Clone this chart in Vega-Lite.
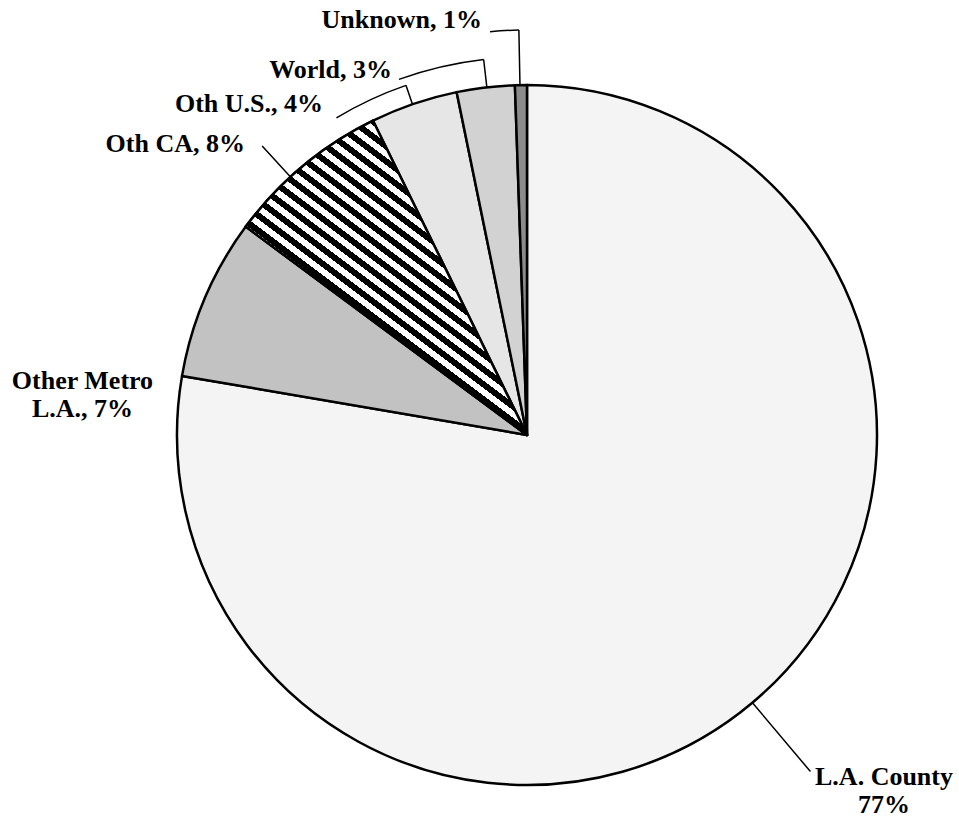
{
  "$schema": "https://vega.github.io/schema/vega-lite/v6.json",
  "width": 864,
  "height": 798,
  "autosize": {"type": "none"},
  "padding": {"left": 95, "top": 36, "right": 0, "bottom": 0},
  "background": "white",
  "config": {"view": {"stroke": null}},
  "data": {
    "values": [
      {"region": "L.A. County", "pct": 77.7, "ord": 1, "label": "L.A. County\n77%"},
      {"region": "Other Metro L.A.", "pct": 7.45, "ord": 2, "label": "Other Metro\nL.A., 7%"},
      {"region": "Oth CA", "pct": 7.6, "ord": 3, "label": "Oth CA, 8%"},
      {"region": "Oth U.S.", "pct": 4.03, "ord": 4, "label": "Oth U.S., 4%"},
      {"region": "World", "pct": 2.67, "ord": 5, "label": "World, 3%"},
      {"region": "Unknown", "pct": 0.55, "ord": 6, "label": "Unknown, 1%"}
    ]
  },
  "transform": [
    {"stack": "pct", "groupby": [], "sort": [{"field": "ord", "order": "ascending"}], "as": ["v0", "v1"]}
  ],
  "layer": [
    {
      "mark": {"type": "arc", "radius": 350, "stroke": "black", "strokeWidth": 2.5, "strokeJoin": "round"},
      "encoding": {
        "theta": {"field": "v0", "type": "quantitative", "stack": null, "scale": {"domain": [0, 100]}},
        "theta2": {"field": "v1"},
        "fill": {
          "field": "region", "type": "nominal", "legend": null,
          "scale": {
            "domain": ["L.A. County", "Other Metro L.A.", "Oth CA", "Oth U.S.", "World", "Unknown"],
            "range": ["#f4f4f4", "#c2c2c2", "#808080", "#e6e6e6", "#d2d2d2", "#8c8c8c"]
          }
        }
      }
    },
    {
      "transform": [{"filter": "datum.region === 'Oth CA'"}],
      "mark": {
        "type": "arc", "radius": 350, "stroke": "black", "strokeWidth": 2.5, "strokeJoin": "round",
        "fill": {
          "gradient": "linear", "x1": 0, "y1": 1, "x2": 0.773, "y2": -0.152,
          "stops": [
            {"offset": 0, "color": "#000"}, {"offset": 0.0143, "color": "#000"}, {"offset": 0.0143, "color": "#fff"}, {"offset": 0.0286, "color": "#fff"},
            {"offset": 0.0286, "color": "#000"}, {"offset": 0.0429, "color": "#000"}, {"offset": 0.0429, "color": "#fff"}, {"offset": 0.0571, "color": "#fff"},
            {"offset": 0.0571, "color": "#000"}, {"offset": 0.0714, "color": "#000"}, {"offset": 0.0714, "color": "#fff"}, {"offset": 0.0857, "color": "#fff"},
            {"offset": 0.0857, "color": "#000"}, {"offset": 0.1, "color": "#000"}, {"offset": 0.1, "color": "#fff"}, {"offset": 0.1143, "color": "#fff"},
            {"offset": 0.1143, "color": "#000"}, {"offset": 0.1286, "color": "#000"}, {"offset": 0.1286, "color": "#fff"}, {"offset": 0.1429, "color": "#fff"},
            {"offset": 0.1429, "color": "#000"}, {"offset": 0.1571, "color": "#000"}, {"offset": 0.1571, "color": "#fff"}, {"offset": 0.1714, "color": "#fff"},
            {"offset": 0.1714, "color": "#000"}, {"offset": 0.1857, "color": "#000"}, {"offset": 0.1857, "color": "#fff"}, {"offset": 0.2, "color": "#fff"},
            {"offset": 0.2, "color": "#000"}, {"offset": 0.2143, "color": "#000"}, {"offset": 0.2143, "color": "#fff"}, {"offset": 0.2286, "color": "#fff"},
            {"offset": 0.2286, "color": "#000"}, {"offset": 0.2429, "color": "#000"}, {"offset": 0.2429, "color": "#fff"}, {"offset": 0.2571, "color": "#fff"},
            {"offset": 0.2571, "color": "#000"}, {"offset": 0.2714, "color": "#000"}, {"offset": 0.2714, "color": "#fff"}, {"offset": 0.2857, "color": "#fff"},
            {"offset": 0.2857, "color": "#000"}, {"offset": 0.3, "color": "#000"}, {"offset": 0.3, "color": "#fff"}, {"offset": 0.3143, "color": "#fff"},
            {"offset": 0.3143, "color": "#000"}, {"offset": 0.3286, "color": "#000"}, {"offset": 0.3286, "color": "#fff"}, {"offset": 0.3429, "color": "#fff"},
            {"offset": 0.3429, "color": "#000"}, {"offset": 0.3571, "color": "#000"}, {"offset": 0.3571, "color": "#fff"}, {"offset": 0.3714, "color": "#fff"},
            {"offset": 0.3714, "color": "#000"}, {"offset": 0.3857, "color": "#000"}, {"offset": 0.3857, "color": "#fff"}, {"offset": 0.4, "color": "#fff"},
            {"offset": 0.4, "color": "#000"}, {"offset": 0.4143, "color": "#000"}, {"offset": 0.4143, "color": "#fff"}, {"offset": 0.4286, "color": "#fff"},
            {"offset": 0.4286, "color": "#000"}, {"offset": 0.4429, "color": "#000"}, {"offset": 0.4429, "color": "#fff"}, {"offset": 0.4571, "color": "#fff"},
            {"offset": 0.4571, "color": "#000"}, {"offset": 0.4714, "color": "#000"}, {"offset": 0.4714, "color": "#fff"}, {"offset": 0.4857, "color": "#fff"},
            {"offset": 0.4857, "color": "#000"}, {"offset": 0.5, "color": "#000"}, {"offset": 0.5, "color": "#fff"}, {"offset": 0.5143, "color": "#fff"},
            {"offset": 0.5143, "color": "#000"}, {"offset": 0.5286, "color": "#000"}, {"offset": 0.5286, "color": "#fff"}, {"offset": 0.5429, "color": "#fff"},
            {"offset": 0.5429, "color": "#000"}, {"offset": 0.5571, "color": "#000"}, {"offset": 0.5571, "color": "#fff"}, {"offset": 0.5714, "color": "#fff"},
            {"offset": 0.5714, "color": "#000"}, {"offset": 0.5857, "color": "#000"}, {"offset": 0.5857, "color": "#fff"}, {"offset": 0.6, "color": "#fff"},
            {"offset": 0.6, "color": "#000"}, {"offset": 0.6143, "color": "#000"}, {"offset": 0.6143, "color": "#fff"}, {"offset": 0.6286, "color": "#fff"},
            {"offset": 0.6286, "color": "#000"}, {"offset": 0.6429, "color": "#000"}, {"offset": 0.6429, "color": "#fff"}, {"offset": 0.6571, "color": "#fff"},
            {"offset": 0.6571, "color": "#000"}, {"offset": 0.6714, "color": "#000"}, {"offset": 0.6714, "color": "#fff"}, {"offset": 0.6857, "color": "#fff"},
            {"offset": 0.6857, "color": "#000"}, {"offset": 0.7, "color": "#000"}, {"offset": 0.7, "color": "#fff"}, {"offset": 0.7143, "color": "#fff"},
            {"offset": 0.7143, "color": "#000"}, {"offset": 0.7286, "color": "#000"}, {"offset": 0.7286, "color": "#fff"}, {"offset": 0.7429, "color": "#fff"},
            {"offset": 0.7429, "color": "#000"}, {"offset": 0.7571, "color": "#000"}, {"offset": 0.7571, "color": "#fff"}, {"offset": 0.7714, "color": "#fff"},
            {"offset": 0.7714, "color": "#000"}, {"offset": 0.7857, "color": "#000"}, {"offset": 0.7857, "color": "#fff"}, {"offset": 0.8, "color": "#fff"},
            {"offset": 0.8, "color": "#000"}, {"offset": 0.8143, "color": "#000"}, {"offset": 0.8143, "color": "#fff"}, {"offset": 0.8286, "color": "#fff"},
            {"offset": 0.8286, "color": "#000"}, {"offset": 0.8429, "color": "#000"}, {"offset": 0.8429, "color": "#fff"}, {"offset": 0.8571, "color": "#fff"},
            {"offset": 0.8571, "color": "#000"}, {"offset": 0.8714, "color": "#000"}, {"offset": 0.8714, "color": "#fff"}, {"offset": 0.8857, "color": "#fff"},
            {"offset": 0.8857, "color": "#000"}, {"offset": 0.9, "color": "#000"}, {"offset": 0.9, "color": "#fff"}, {"offset": 0.9143, "color": "#fff"},
            {"offset": 0.9143, "color": "#000"}, {"offset": 0.9286, "color": "#000"}, {"offset": 0.9286, "color": "#fff"}, {"offset": 0.9429, "color": "#fff"},
            {"offset": 0.9429, "color": "#000"}, {"offset": 0.9571, "color": "#000"}, {"offset": 0.9571, "color": "#fff"}, {"offset": 0.9714, "color": "#fff"},
            {"offset": 0.9714, "color": "#000"}, {"offset": 0.9857, "color": "#000"}, {"offset": 0.9857, "color": "#fff"}, {"offset": 1, "color": "#fff"}
          ]
        }
      },
      "encoding": {
        "theta": {"field": "v0", "type": "quantitative", "stack": null, "scale": {"domain": [0, 100]}},
        "theta2": {"field": "v1"}
      }
    },
    {
      "transform": [{"filter": "datum.region === 'Unknown'"}],
      "mark": {"type": "arc", "filled": false, "stroke": "black", "strokeWidth": 1.5, "radius": 405, "radius2": 350, "thetaOffset": 0.0145, "theta2Offset": 0.0145},
      "encoding": {
        "theta": {"field": "v0", "type": "quantitative", "stack": null, "scale": {"domain": [0, 100]}},
        "theta2": {"field": "v0"}
      }
    },
    {
      "transform": [{"filter": "datum.region === 'Unknown'"}],
      "mark": {"type": "arc", "filled": false, "stroke": "black", "strokeWidth": 1.5, "radius": 405, "radius2": 405, "thetaOffset": -0.0569, "theta2Offset": 0.0145},
      "encoding": {
        "theta": {"field": "v0", "type": "quantitative", "stack": null, "scale": {"domain": [0, 100]}},
        "theta2": {"field": "v0"}
      }
    },
    {
      "transform": [{"filter": "datum.region === 'World'"}],
      "mark": {"type": "arc", "filled": false, "stroke": "black", "strokeWidth": 1.5, "radius": 378, "radius2": 350, "thetaOffset": 0.0874, "theta2Offset": 0.0874},
      "encoding": {
        "theta": {"field": "v0", "type": "quantitative", "stack": null, "scale": {"domain": [0, 100]}},
        "theta2": {"field": "v0"}
      }
    },
    {
      "transform": [{"filter": "datum.region === 'World'"}],
      "mark": {"type": "arc", "filled": false, "stroke": "black", "strokeWidth": 1.5, "radius": 378, "radius2": 378, "thetaOffset": -0.1433, "theta2Offset": 0.0874},
      "encoding": {
        "theta": {"field": "v0", "type": "quantitative", "stack": null, "scale": {"domain": [0, 100]}},
        "theta2": {"field": "v0"}
      }
    },
    {
      "transform": [{"filter": "datum.region === 'Oth U.S.'"}],
      "mark": {"type": "arc", "filled": false, "stroke": "black", "strokeWidth": 1.5, "radius": 370, "radius2": 350, "thetaOffset": 0.1222, "theta2Offset": 0.1222},
      "encoding": {
        "theta": {"field": "v0", "type": "quantitative", "stack": null, "scale": {"domain": [0, 100]}},
        "theta2": {"field": "v0"}
      }
    },
    {
      "transform": [{"filter": "datum.region === 'Oth U.S.'"}],
      "mark": {"type": "arc", "filled": false, "stroke": "black", "strokeWidth": 1.5, "radius": 370, "radius2": 370, "thetaOffset": -0.0855, "theta2Offset": 0.1222},
      "encoding": {
        "theta": {"field": "v0", "type": "quantitative", "stack": null, "scale": {"domain": [0, 100]}},
        "theta2": {"field": "v0"}
      }
    },
    {
      "transform": [{"filter": "datum.region === 'Oth CA'"}],
      "mark": {"type": "arc", "filled": false, "stroke": "black", "strokeWidth": 1.5, "radius": 392, "radius2": 350, "thetaOffset": 0.1913, "theta2Offset": 0.1913},
      "encoding": {
        "theta": {"field": "v0", "type": "quantitative", "stack": null, "scale": {"domain": [0, 100]}},
        "theta2": {"field": "v0"}
      }
    },
    {
      "transform": [{"filter": "datum.region === 'L.A. County'"}],
      "mark": {"type": "arc", "filled": false, "stroke": "black", "strokeWidth": 1.5, "radius": 440, "radius2": 350, "thetaOffset": 2.4417, "theta2Offset": 2.4417},
      "encoding": {
        "theta": {"field": "v0", "type": "quantitative", "stack": null, "scale": {"domain": [0, 100]}},
        "theta2": {"field": "v0"}
      }
    },
    {
      "transform": [{"filter": "datum.region === 'Unknown'"}],
      "mark": {"type": "text", "radius": 409.5, "thetaOffset": -0.0756, "align": "right", "baseline": "alphabetic", "font": "Liberation Serif", "fontWeight": "bold", "fontSize": 26, "color": "black", "lineBreak": "\n", "lineHeight": 28},
      "encoding": {
        "theta": {"field": "v0", "type": "quantitative", "stack": null, "scale": {"domain": [0, 100]}},
        "text": {"field": "label", "type": "nominal"}
      }
    },
    {
      "transform": [{"filter": "datum.region === 'World'"}],
      "mark": {"type": "text", "radius": 381.7, "thetaOffset": -0.1591, "align": "right", "baseline": "alphabetic", "font": "Liberation Serif", "fontWeight": "bold", "fontSize": 26, "color": "black", "lineBreak": "\n", "lineHeight": 28},
      "encoding": {
        "theta": {"field": "v0", "type": "quantitative", "stack": null, "scale": {"domain": [0, 100]}},
        "text": {"field": "label", "type": "nominal"}
      }
    },
    {
      "transform": [{"filter": "datum.region === 'Oth U.S.'"}],
      "mark": {"type": "text", "radius": 382, "thetaOffset": -0.1077, "align": "right", "baseline": "alphabetic", "font": "Liberation Serif", "fontWeight": "bold", "fontSize": 26, "color": "black", "lineBreak": "\n", "lineHeight": 28},
      "encoding": {
        "theta": {"field": "v0", "type": "quantitative", "stack": null, "scale": {"domain": [0, 100]}},
        "text": {"field": "label", "type": "nominal"}
      }
    },
    {
      "transform": [{"filter": "datum.region === 'Oth CA'"}],
      "mark": {"type": "text", "radius": 399.5, "thetaOffset": 0.1494, "align": "right", "baseline": "alphabetic", "font": "Liberation Serif", "fontWeight": "bold", "fontSize": 26, "color": "black", "lineBreak": "\n", "lineHeight": 28},
      "encoding": {
        "theta": {"field": "v0", "type": "quantitative", "stack": null, "scale": {"domain": [0, 100]}},
        "text": {"field": "label", "type": "nominal"}
      }
    },
    {
      "transform": [{"filter": "datum.region === 'Other Metro L.A.'"}],
      "mark": {"type": "text", "radius": 446.9, "thetaOffset": -0.0665, "align": "center", "baseline": "alphabetic", "font": "Liberation Serif", "fontWeight": "bold", "fontSize": 26, "color": "black", "lineBreak": "\n", "lineHeight": 28},
      "encoding": {
        "theta": {"field": "v0", "type": "quantitative", "stack": null, "scale": {"domain": [0, 100]}},
        "text": {"field": "label", "type": "nominal"}
      }
    },
    {
      "transform": [{"filter": "datum.region === 'L.A. County'"}],
      "mark": {"type": "text", "radius": 499.9, "thetaOffset": 2.3462, "align": "center", "baseline": "alphabetic", "font": "Liberation Serif", "fontWeight": "bold", "fontSize": 26, "color": "black", "lineBreak": "\n", "lineHeight": 28},
      "encoding": {
        "theta": {"field": "v0", "type": "quantitative", "stack": null, "scale": {"domain": [0, 100]}},
        "text": {"field": "label", "type": "nominal"}
      }
    }
  ]
}
